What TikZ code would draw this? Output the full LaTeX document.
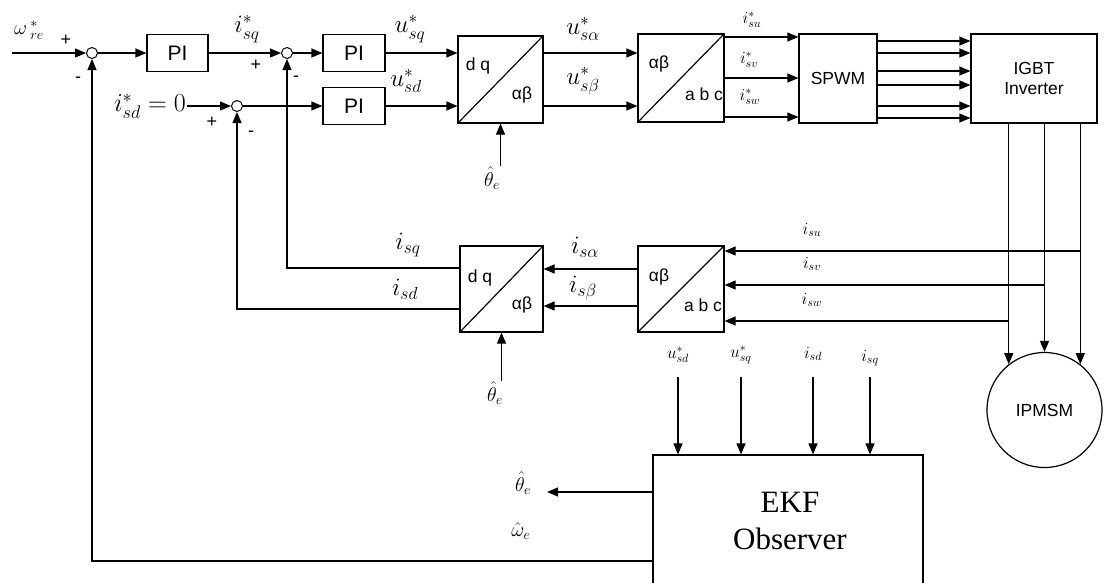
\RequirePackage{fix-cm}
\documentclass[tikz,border=0pt]{standalone}
\usepackage{fontspec}
\setmainfont{Liberation Serif}
\setsansfont{Liberation Sans}
\usetikzlibrary{arrows.meta}

\begin{document}
\begin{tikzpicture}[x=1pt,y=-1pt,>={Triangle[length=11pt,width=9pt]},line width=1.2pt,
  every node/.style={inner sep=0pt},
  blk/.style={draw,minimum width=62pt,minimum height=37pt,font=\sffamily\fontsize{21}{24}\selectfont},
  sumpt/.style={draw,circle,minimum size=11pt,fill=white,line width=1pt},
  tfblk/.style={draw,minimum width=85pt,minimum height=87pt},
  txt/.style={font=\sffamily\fontsize{17.5}{20}\selectfont},
  lab/.style={font=\fontsize{25}{27}\selectfont},
  sml/.style={font=\fontsize{17}{19}\selectfont},
  est/.style={font=\fontsize{20}{22}\selectfont},
  sgn/.style={font=\sffamily\fontsize{18}{20}\selectfont}]
  \useasboundingbox (0,0) rectangle (1108,582);
  \coordinate (wref) at (12,53);
  \node[sumpt] (s1) at (92,53) {};
  \node[blk,minimum width=61pt] (pi1) at (177.5,53) {PI};
  \node[sumpt] (s2) at (287,53) {};
  \node[blk] (pi2) at (354,53) {PI};
  \node[blk] (pi3) at (354,106) {PI};
  \node[font=\fontsize{26}{28}\selectfont] (isd0) at (150,106) {$i^{*}_{sd}=0$};
  \node[sumpt] (s3) at (237,106) {};
  \node[tfblk] (tf1) at (500.5,79.5) {};
  \node[tfblk,minimum width=86pt,minimum height=88pt] (tf2) at (681,78) {};
  \node[draw,minimum width=78pt,minimum height=89pt,txt] (spwm) at (838,78.5) {SPWM};
  \node[draw,minimum width=126pt,minimum height=89pt,txt,align=center] (igbt) at (1034,78.5) {IGBT\\Inverter};
  \node[draw,circle,minimum size=115pt,txt] (ipmsm) at (1044.5,410) {IPMSM};
  \node[tfblk,minimum width=86pt,minimum height=86pt] (tf3) at (681,289) {};
  \node[tfblk,minimum width=83pt,minimum height=86pt] (tf4) at (501.5,289) {};
  \node[draw,minimum width=270pt,minimum height=150pt] (ekf) at (788,530) {};
  \node[font=\fontsize{31}{37}\selectfont,align=center] (ekftxt) at (790,521) {EKF\\Observer};
  \node[txt] (tf1a) at (478,66) {d q};
  \node[txt] (tf1b) at (522,95) {αβ};
  \node[txt] (tf2a) at (659,64) {αβ};
  \node[txt] (tf2b) at (704,94) {a b c};
  \node[txt] (tf3a) at (659,277) {αβ};
  \node[txt] (tf3b) at (703,305) {a b c};
  \node[txt] (tf4a) at (480,278) {d q};
  \node[txt] (tf4b) at (522,305) {αβ};
  \foreach \t in {tf1,tf2,tf3,tf4} \draw (\t.south west) -- (\t.north east);
  \node[font=\fontsize{20}{22}\selectfont] (wlab) at (29,30) {$\omega\,^{*}_{re}$};
  \node[lab] (isq) at (247,29) {$i^{*}_{sq}$};
  \node[lab] (usq) at (410,29) {$u^{*}_{sq}$};
  \node[lab] (usd) at (406,81) {$u^{*}_{sd}$};
  \node[lab] (usa) at (583,29) {$u^{*}_{s\alpha}$};
  \node[lab] (usb) at (583,81) {$u^{*}_{s\beta}$};
  \node[sml] (isu) at (752,20) {$i^{*}_{su}$};
  \node[sml] (isv) at (749,60) {$i^{*}_{sv}$};
  \node[sml] (isw) at (750,97) {$i^{*}_{sw}$};
  \node[lab] (fisq) at (408,245) {$i_{sq}$};
  \node[lab] (fisd) at (405,289) {$i_{sd}$};
  \node[lab] (fisa) at (585,247) {$i_{s\alpha}$};
  \node[lab] (fisb) at (583,288) {$i_{s\beta}$};
  \node[sml] (fisu) at (812,230) {$i_{su}$};
  \node[sml] (fisv) at (812,264) {$i_{sv}$};
  \node[sml] (fisw) at (812,300) {$i_{sw}$};
  \node[sgn] (p1) at (66,40) {+};
  \node[sgn] (m1) at (78,80) {-};
  \node[sgn] (p2) at (256,65) {+};
  \node[sgn] (m2) at (296,79) {-};
  \node[sgn] (p3) at (212,122) {+};
  \node[sgn] (m3) at (251,134) {-};
  \node[est] (th1) at (492,178) {$\hat\theta_e$};
  \node[est] (th2) at (495,393) {$\hat\theta_e$};
  \node[sml] (ekin1) at (678,355) {$u^{*}_{sd}$};
  \node[sml] (ekin2) at (741,355) {$u^{*}_{sq}$};
  \node[sml] (ekin3) at (813,354) {$i_{sd}$};
  \node[sml] (ekin4) at (870,358) {$i_{sq}$};
  \node[est] (thout) at (523,483) {$\hat\theta_e$};
  \node[est] (wout) at (521,531) {$\hat\omega_e$};
  \coordinate (thtip) at (547,492);
  \draw[->] (wref) -- (s1);
  \draw[->] (s1) -- (pi1);
  \draw[->] (pi1) -- (s2);
  \draw[->] (s2) -- (pi2);
  \draw[->] (isd0) -- (s3);
  \draw[->] (s3) -- (pi3);
  \draw[->] (pi2) -- (pi2 -| tf1.west);
  \draw[->] (pi3) -- (pi3 -| tf1.west);
  \draw[->] (pi2 -| tf1.east) -- (pi2 -| tf2.west);
  \draw[->] (pi3 -| tf1.east) -- (pi3 -| tf2.west);
  \foreach \yy in {37,78,117} \draw[->] (tf2.east |- 0,\yy) -- (spwm.west |- 0,\yy);
  \foreach \yy in {41,53,71,85,106,118} \draw[->] (spwm.east |- 0,\yy) -- (igbt.west |- 0,\yy);
  \foreach \a in {128,90,52} \draw[->] (igbt.south -| ipmsm.\a) -- (ipmsm.\a);
  \draw[->] (ipmsm.52 |- 0,251) -- (tf3.east |- 0,251);
  \draw[->] (ipmsm.90 |- 0,285) -- (tf3.east |- 0,285);
  \draw[->] (ipmsm.128 |- 0,321) -- (tf3.east |- 0,321);
  \draw[->] (tf3.west |- 0,269) -- (tf4.east |- 0,269);
  \draw[->] (tf3.west |- 0,306) -- (tf4.east |- 0,306);
  \draw[->] (tf4.west |- 0,268) -| (s2.south);
  \draw[->] (tf4.west |- 0,309) -| (s3.south);
  \draw[->] (th1.north -| tf1.south) -- (tf1.south);
  \draw[->] (th2.north -| tf4.south) -- (tf4.south);
  \foreach \n in {1,2,3,4} \draw[->] (ekin\n.south |- 0,377) -- (ekin\n.south |- ekf.north);
  \draw[->] (ekf.west |- thtip) -- (thtip);
  \draw[->] (ekf.west |- 0,561) -| (s1.south);
\end{tikzpicture}
\end{document}
